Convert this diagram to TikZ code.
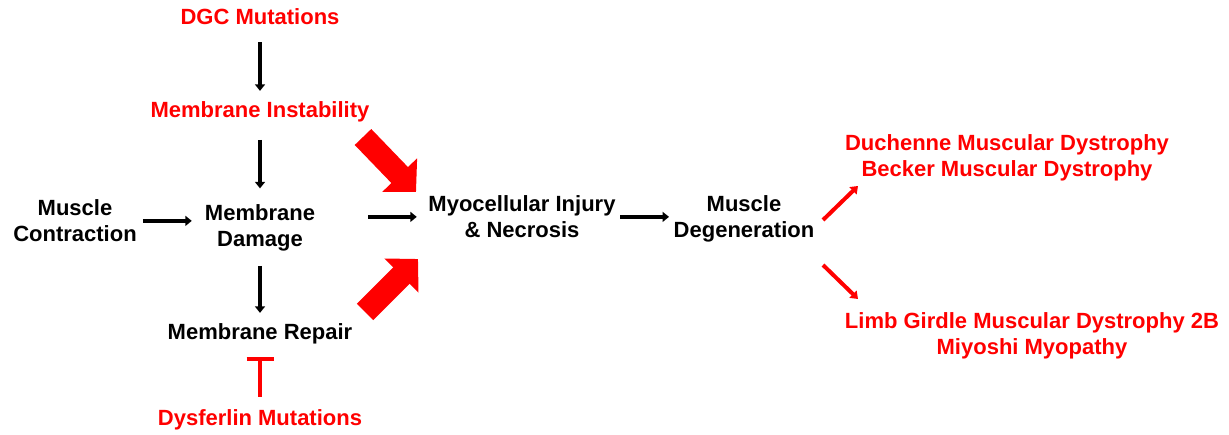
\documentclass[tikz,border=0pt]{standalone}
\usepackage{fontspec}
\setmainfont{Liberation Sans}
\usetikzlibrary{arrows.meta}
\begin{document}
\begin{tikzpicture}[x=1pt,y=-1pt,
  lbl/.style={font=\fontsize{22}{26.5}\selectfont\bfseries, inner sep=0pt, align=center, anchor=base},
  redlbl/.style={lbl, text=red},
  blk/.style={line width=3.8pt, -{Triangle[length=6.5pt,width=10pt]}},
  redarr/.style={red, line width=4pt, -{Triangle[length=7pt,width=10pt]}},
  bigarr/.style={red, line width=23pt, -{Triangle[length=23.5pt,width=47pt]}},
  inhib/.style={red, line width=4pt, -{Bar[width=27pt]}}]
\path[use as bounding box, fill=white] (0,0) rectangle (1229,435);

% nodes (anchor=base: baseline of the last line)
\node[redlbl] (dgc) at (260,25) {DGC Mutations};
\node[redlbl] (mi)  at (260,118) {Membrane Instability};
\node[lbl] (mc)  at (75,242) {Muscle\\Contraction};
\node[lbl] (md)  at (260,247) {Membrane\\Damage};
\node[lbl] (mr)  at (260,340) {Membrane Repair};
\node[redlbl] (dys) at (260,425) {Dysferlin Mutations};
\node[lbl] (myo) at (522,238) {Myocellular Injury\\\& Necrosis};
\node[lbl] (mdeg) at (744,238) {Muscle\\Degeneration};
\node[redlbl] (dmd) at (1007,177) {Duchenne Muscular Dystrophy\\Becker Muscular Dystrophy};
\node[redlbl] (lgmd) at (1032,355) {Limb Girdle Muscular Dystrophy 2B\\Miyoshi Myopathy};

% free ends
\coordinate (b1s) at (363,137);
\coordinate (b1e) at (416,192);
\coordinate (b2s) at (365,312);
\coordinate (b2e) at (418,259);
\coordinate (d1s) at (823,220);
\coordinate (d1e) at (858,186);
\coordinate (d2s) at (823,265);
\coordinate (d2e) at (858,299);

% black arrows
\draw[blk, shorten <=17pt, shorten >=11pt] (dgc.south) -- (mi.north);
\draw[blk, shorten <=17pt, shorten >=16pt] (mi.south) -- (md.north);
\draw[blk, shorten <=14pt, shorten >=11pt] (md.south) -- (mr.north);
\draw[blk, shorten <=6pt, shorten >=13pt] (mc) -- (mc -| md.west);
\draw[blk, shorten <=53pt, shorten >=11.5pt] (myo -| md.east) -- (myo);
\draw[blk, shorten <=4.5pt, shorten >=4.5pt] (myo) -- (myo -| mdeg.west);

% inhibition
\draw[inhib, shorten <=12pt, shorten >=12pt] (dys.north) -- (mr.south);

% big red arrows
\draw[bigarr] (b1s) -- (b1e);
\draw[bigarr] (b2s) -- (b2e);

% red diagonal arrows
\draw[redarr] (d1s) -- (d1e);
\draw[redarr] (d2s) -- (d2e);
\end{tikzpicture}
\end{document}
